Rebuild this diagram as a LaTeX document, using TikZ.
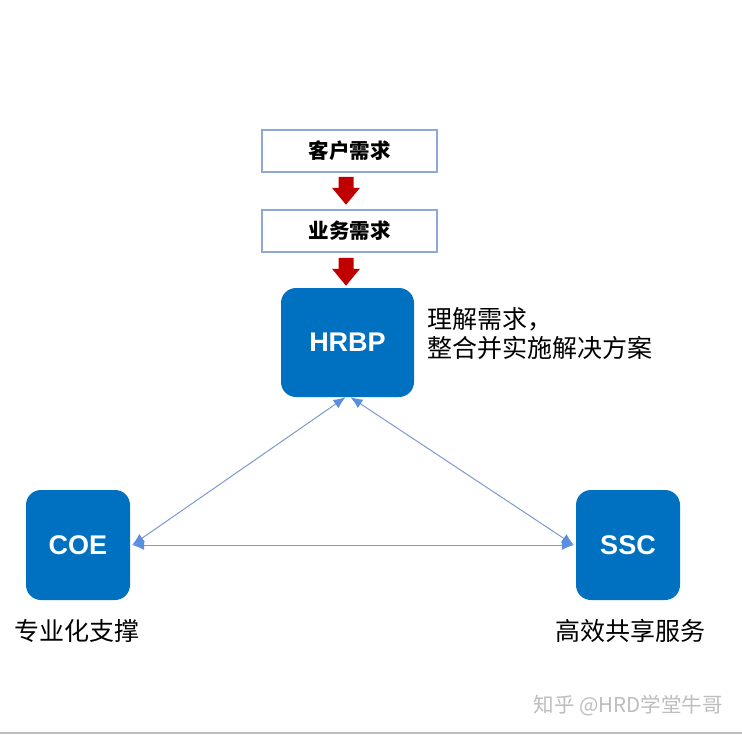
\documentclass[tikz,border=0pt]{standalone}
\usepackage{fontspec}
\setmainfont{Liberation Sans}
\newfontfamily\cjk{Noto Sans CJK SC}
\usetikzlibrary{arrows.meta,calc}
\definecolor{bluebox}{HTML}{0070C0}
\definecolor{boxline}{HTML}{8EA9D6}
\definecolor{darkred}{HTML}{C00000}
\definecolor{linkblue}{HTML}{7F9ACB}
\definecolor{tipblue}{HTML}{5B8DE0}
\definecolor{wmgray}{HTML}{BDBDBD}
\tikzset{
  reqbox/.style={draw=boxline, line width=1.5pt, fill=white, minimum width=175pt, minimum height=42pt, inner sep=0pt,
    font=\cjk\bfseries\fontsize{20.5}{24}\selectfont},
  rolebox/.style={fill=bluebox, rounded corners=15pt, inner sep=0pt, text=white,
    font=\bfseries\fontsize{27}{30}\selectfont},
  cjktext/.style={font=\cjk\fontsize{25}{29}\selectfont, inner sep=0pt},
  link/.style={draw=linkblue, line width=1pt, {Latex[length=12pt,width=10pt,color=tipblue]}-{Latex[length=12pt,width=10pt,color=tipblue]}},
  redarrow/.style={fill=darkred, draw=none}
}
\begin{document}
\begin{tikzpicture}[x=1pt,y=-1pt]
\useasboundingbox (0,0) rectangle (742,736);
\fill[white] (0,0) rectangle (742,736);
% top request boxes
\node[reqbox] (req1) at (349.5,151) {客户需求};
\node[reqbox] (req2) at (349.5,231) {业务需求};
% role boxes
\node[rolebox, minimum width=133pt, minimum height=109pt] (hrbp) at (347.5,342.5) {HRBP};
\node[rolebox, minimum width=104pt, minimum height=110pt] (coe) at (78,545) {COE};
\node[rolebox, minimum width=104pt, minimum height=110pt] (ssc) at (628,545) {SSC};
% red block arrows
\path ($(req1.south)+(-3.5,4)$) coordinate (a1);
\path ($(req2.south)+(-3.5,5)$) coordinate (a2);
\fill[redarrow] (a1) ++(-7.5,0) -- ++(15,0) -- ++(0,11) -- ++(6.5,0) -- ++(-14,17) -- ++(-14,-17) -- ++(6.5,0) -- cycle;
\fill[redarrow] (a2) ++(-7.5,0) -- ++(15,0) -- ++(0,11) -- ++(6.5,0) -- ++(-14,17) -- ++(-14,-17) -- ++(6.5,0) -- cycle;
% texts
\node[cjktext, anchor=north west, align=left] (desc) at (427,307) {理解需求，\\整合并实施解决方案};
\node[cjktext, anchor=north] (coel) at (77,619) {专业化支撑};
\node[cjktext, anchor=north] (sscl) at (630,619) {高效共享服务};
\node[font=\cjk\fontsize{20.5}{24}\selectfont, text=wmgray, inner sep=0pt, anchor=east] (wm) at (723,706) {知乎 @HRD学堂牛哥};
% connectors
\draw[link] ([xshift=-2pt]hrbp.south) -- ([xshift=2pt]coe.east);
\draw[link] ([xshift=3pt]hrbp.south) -- ([xshift=-2pt]ssc.west);
\draw[link] ([xshift=2pt]coe.east) -- ([xshift=-2pt]ssc.west);
% bottom rule
\coordinate (bl) at (0,733);
\coordinate (br) at (742,733);
\draw[color=black!25, line width=1.5pt] (bl) -- (br);
\end{tikzpicture}
\end{document}
